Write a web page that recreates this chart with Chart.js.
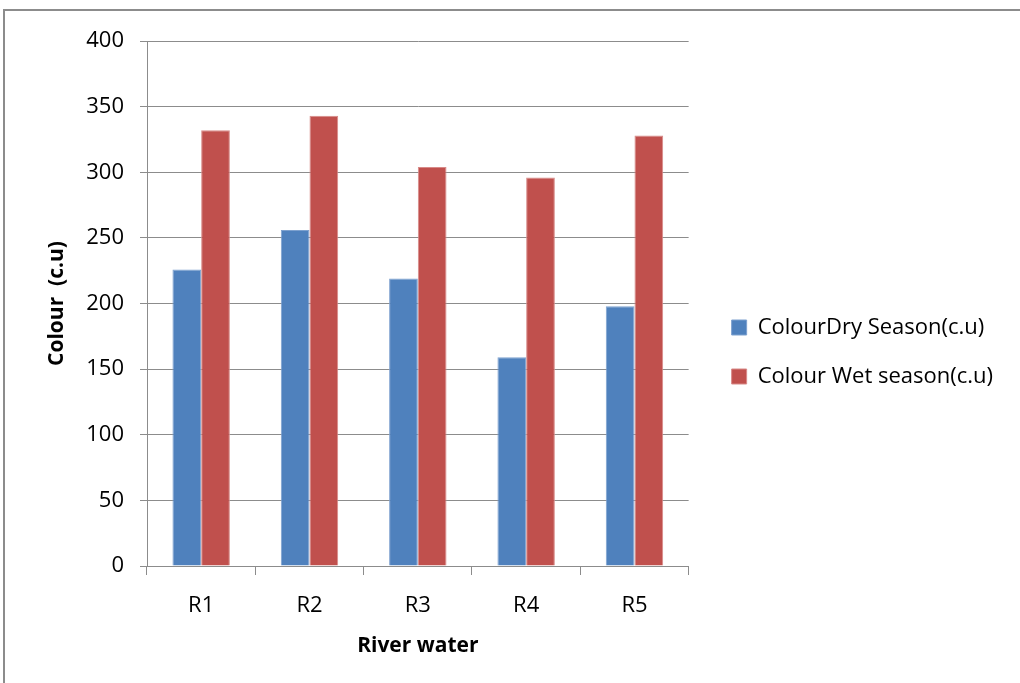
<!DOCTYPE html>
<html lang="en">
<head>
  <meta charset="UTF-8">
  <title>Colour of river water</title>
  <script src="https://cdn.jsdelivr.net/npm/chart.js"></script>
  <style>
    html, body { margin: 0; padding: 0; background: #fff; }
    #wrap { position: relative; width: 1020px; height: 683px; overflow: hidden; }
    #frame { position: absolute; left: 3px; top: 9px; width: 1100px; height: 800px;
             border-left: 2px solid #8c8c8c; border-top: 2px solid #8c8c8c; }
    canvas { position: absolute; left: 0; top: 0; }
  </style>
</head>
<body>
  <div id="wrap">
    <div id="frame"></div>
    <canvas id="chart" width="1020" height="683"></canvas>
  </div>

  <script>
    const categories = ['R1', 'R2', 'R3', 'R4', 'R5'];
    const drySeason = [226, 256, 219, 159, 198];
    const wetSeason = [332, 343, 304, 296, 328];
    const seriesNames = ['ColourDry Season(c.u)', 'Colour Wet season(c.u)'];

    const font = "'Open Sans', 'Liberation Sans', sans-serif";
    const gridColor = '#8c8c8c';

    new Chart(document.getElementById('chart'), {
      type: 'bar',
      data: {
        labels: categories,
        datasets: [
          { label: seriesNames[0], data: drySeason, backgroundColor: '#4F81BD', borderColor: '#7da1cf', borderWidth: 1 },
          { label: seriesNames[1], data: wetSeason, backgroundColor: '#C0504D', borderColor: '#d88a88', borderWidth: 1 }
        ]
      },
      options: {
        responsive: false,
        animation: false,
        layout: { padding: { top: 41, left: 40, right: 17, bottom: 20 } },
        datasets: { bar: { categoryPercentage: 0.53, barPercentage: 1 } },
        plugins: {
          legend: {
            position: 'right',
            maxWidth: 400,
            labels: {
              color: '#000',
              font: { family: font, size: 22 },
              boxWidth: 15,
              boxHeight: 15,
              padding: 27
            }
          },
          tooltip: { enabled: false }
        },
        scales: {
          x: {
            offset: true,
            grid: { offset: true, drawOnChartArea: false, drawTicks: true, tickLength: 9, color: gridColor },
            border: { color: gridColor },
            ticks: { color: '#000', font: { family: font, size: 22 }, padding: 18 },
            title: { display: true, text: 'River water', color: '#000', font: { family: font, size: 21, weight: 'bold' }, padding: { top: 2 } },
            afterFit: (scale) => { scale.height = 97; }
          },
          y: {
            min: 0,
            max: 400,
            ticks: { stepSize: 50, color: '#000', font: { family: font, size: 22 }, padding: 16 },
            grid: { color: gridColor, tickLength: 7 },
            border: { color: gridColor },
            title: { display: true, text: 'Colour  (c.u)', color: '#000', font: { family: font, size: 21, weight: 'bold' } },
            afterFit: (scale) => { scale.width = 107; }
          },
          // empty right-hand scale, only keeps a gap between the plot and the legend
          gap: {
            type: 'linear',
            position: 'right',
            grid: { display: false },
            border: { display: false },
            ticks: { display: false },
            afterFit: (scale) => { scale.width = 16; }
          }
        }
      }
    });
  </script>
</body>
</html>
